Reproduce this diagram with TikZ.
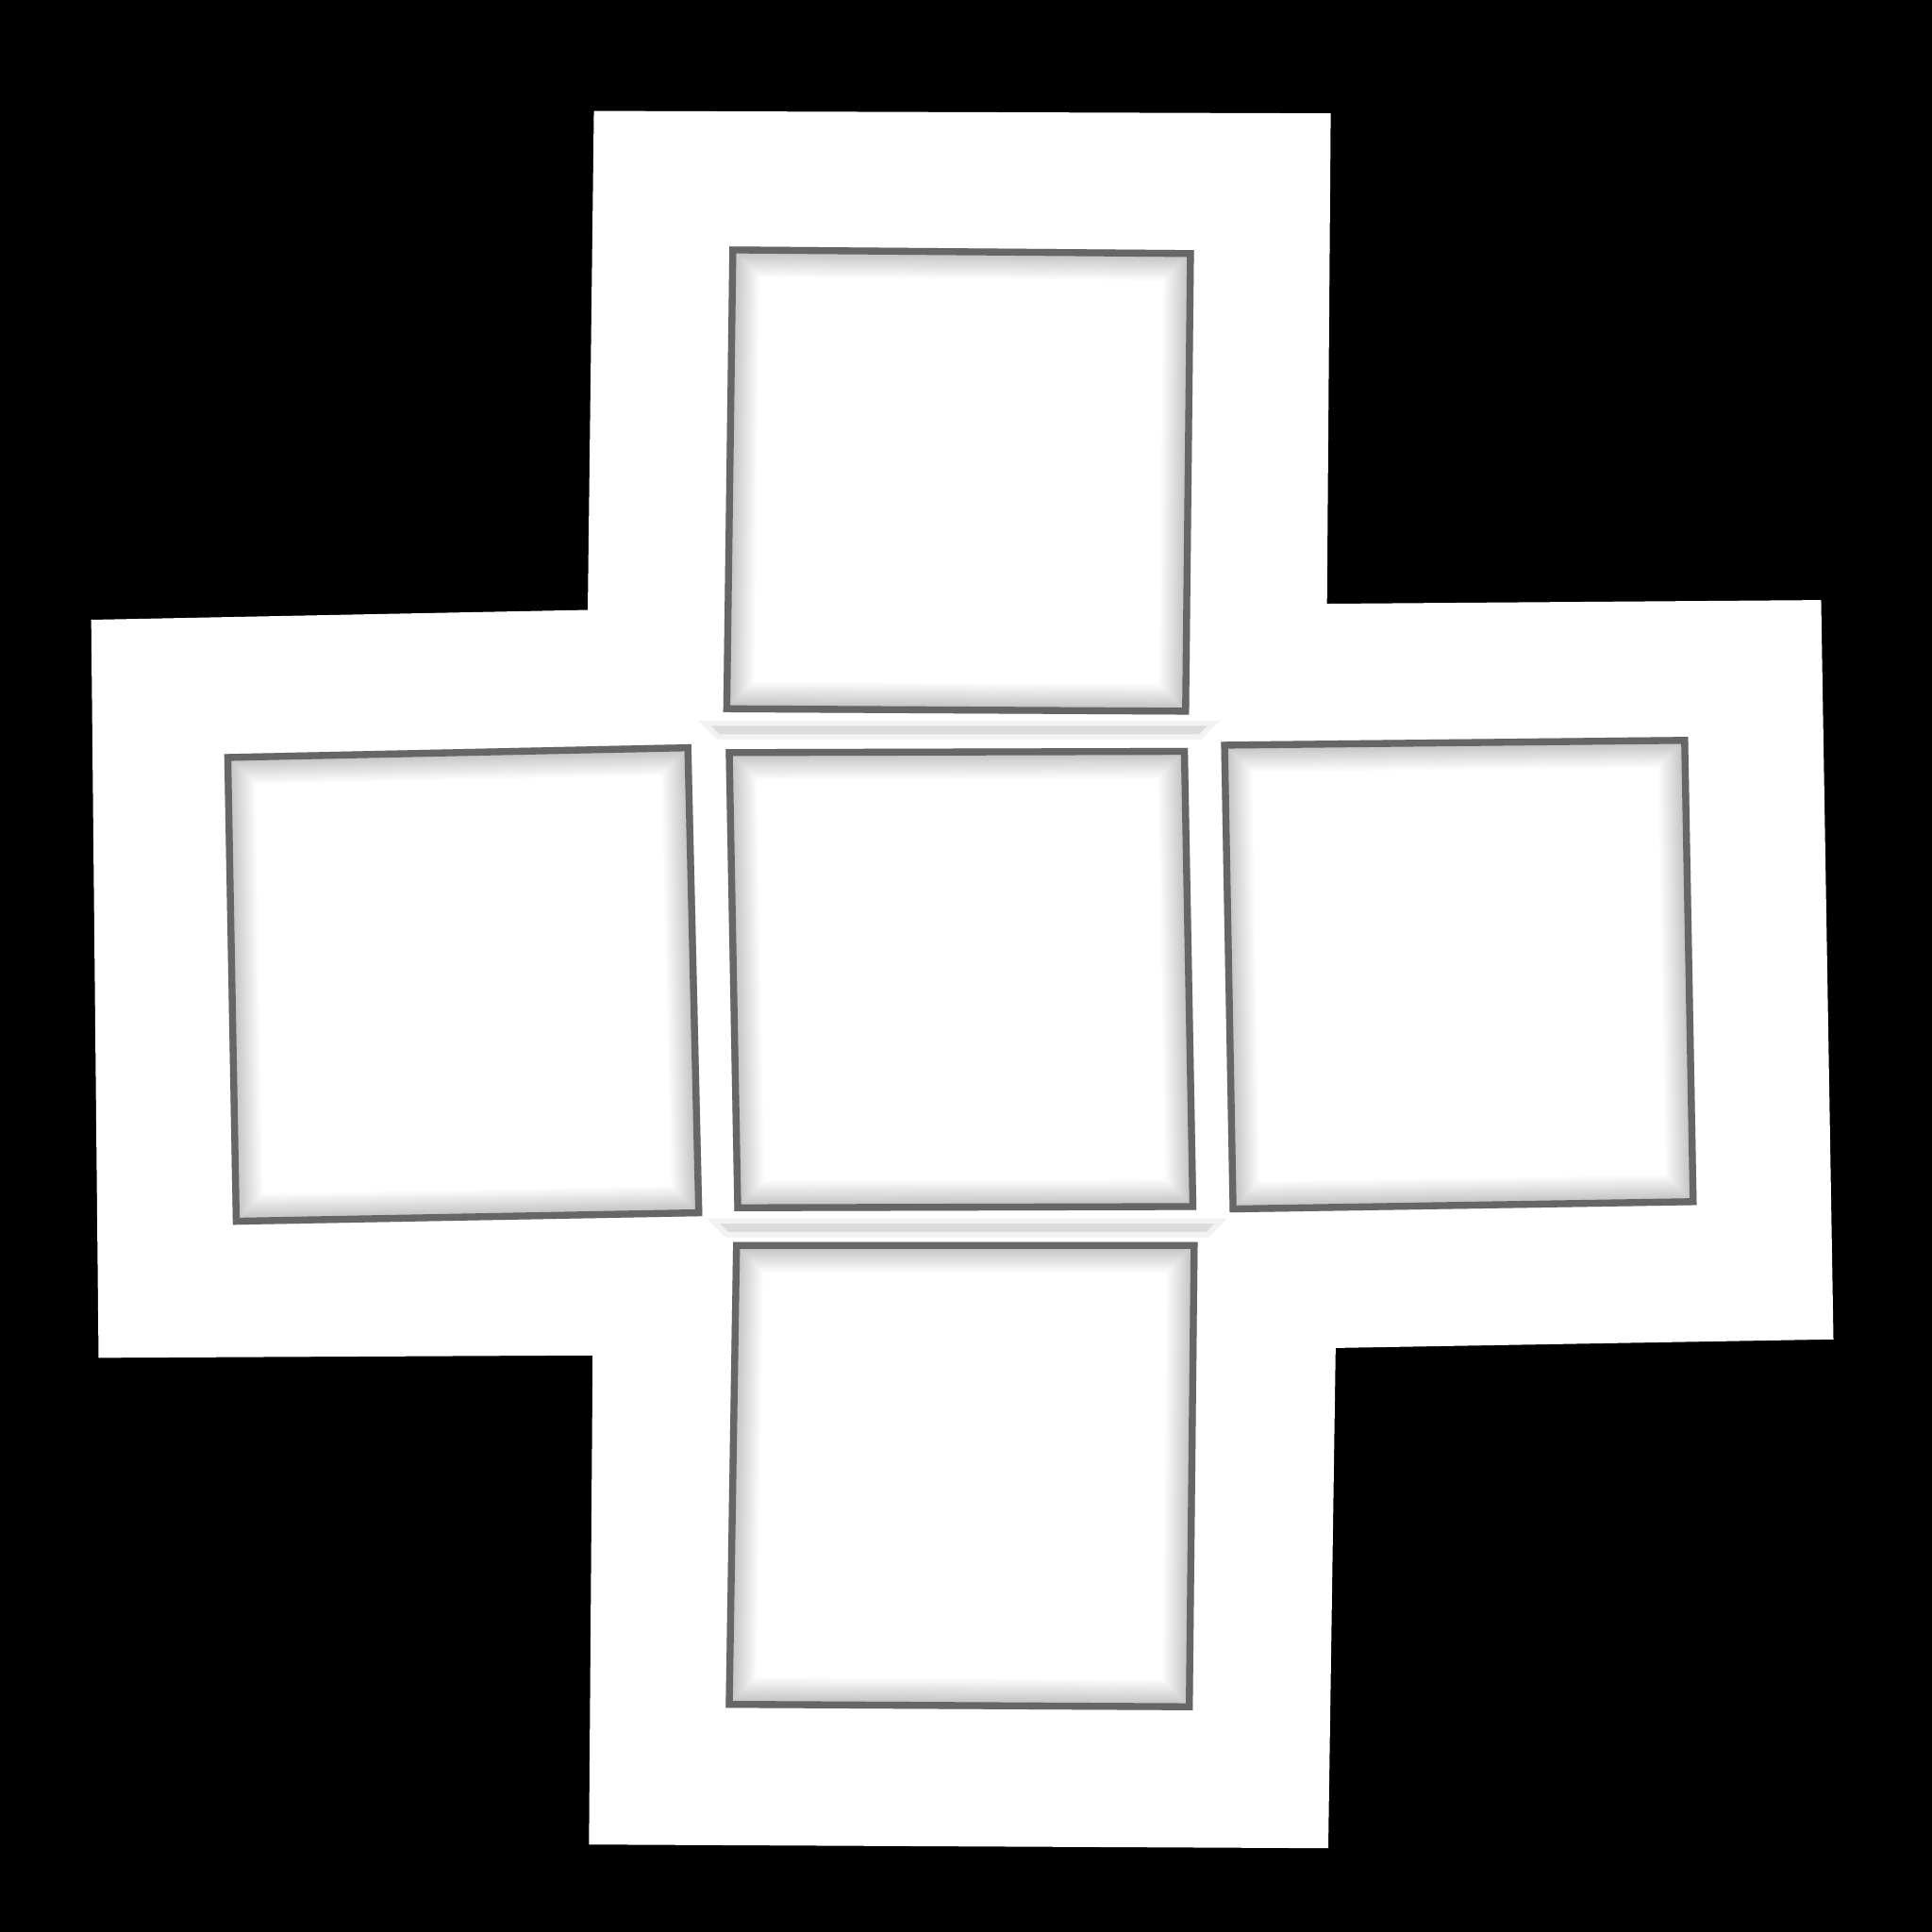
\documentclass[tikz,border=0pt]{standalone}
\usetikzlibrary{calc}
\definecolor{rimgrey}{HTML}{666666}
\definecolor{stripgrey}{HTML}{DCDCDC}
\tikzset{
  haze/.style={draw=black,draw opacity=0.018,line join=miter},
  rim/.style={draw=rimgrey,line width=3.2pt,line join=miter},
  strip/.style={fill=stripgrey,draw=black!5,line width=1.2pt}
}
% one panel: clipped soft inner shadow, then the grey rim
\newcommand{\panel}[4]{%
  \begin{scope}
    \clip #1 -- #2 -- #3 -- #4 -- cycle;
    \fill[white] #1 -- #2 -- #3 -- #4 -- cycle;
    \foreach \w in {14,13,...,3}
      \draw[haze,line width=\w pt] #1 -- #2 -- #3 -- #4 -- cycle;
    \draw[rim] #1 -- #2 -- #3 -- #4 -- cycle;
  \end{scope}}
\begin{document}
\begin{tikzpicture}[x=0.1mm,y=-0.1mm]
  \fill[black] (0,0) rectangle (1568,1568);
  % cross
  \fill[white] (482,90) -- (1080,92) -- (1077,490) -- (1478,487) -- (1488,1087)
    -- (1084,1094) -- (1078,1500) -- (478,1497) -- (481,1100) -- (80,1102)
    -- (74,503) -- (477,495) -- cycle;
  % panels
  \panel{(592,200)}{(969,203)}{(965,580)}{(587,578)}
  \panel{(182,612)}{(561,604)}{(570,987)}{(189,994)}
  \panel{(589,608)}{(964,607)}{(971,982)}{(596,983)}
  \panel{(991,602)}{(1370,598)}{(1377,978)}{(998,984)}
  \panel{(595,1008)}{(972,1008)}{(968,1388)}{(589,1386)}
  % strips
  \draw[strip] (572,587) -- (985,587) -- (974,598) -- (583,598) -- cycle;
  \draw[strip] (579,991) -- (991,991) -- (980,1002) -- (590,1002) -- cycle;
\end{tikzpicture}
\end{document}
